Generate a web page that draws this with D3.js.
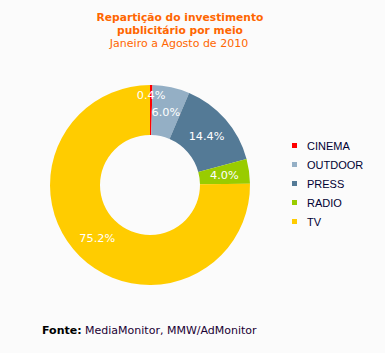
<!DOCTYPE html>
<html><head><meta charset="utf-8">
<script src="https://cdn.jsdelivr.net/npm/d3@7"></script>
<style>
html,body{margin:0;padding:0;background:#fbfbfb;}
svg{display:block;}
</style></head>
<body>
<svg id="c" width="385" height="353"></svg>
<script>
const categories = ["CINEMA","OUTDOOR","PRESS","RADIO","TV"];
const values = [0.4, 6.0, 14.4, 4.0, 75.2];
const colors = ["#ff0000","#94afc5","#547a96","#99cc00","#ffcc00"];
const titleLines = ["Repartição do investimento","publicitário por meio"];
const subtitle = "Janeiro a Agosto de 2010";

const svg = d3.select("#c");
svg.append("rect").attr("width",385).attr("height",353).attr("fill","#fbfbfb");

const t = svg.append("g").attr("font-family","DejaVu Sans, Verdana, sans-serif").attr("text-anchor","middle");
t.append("text").attr("x",180).attr("y",21).attr("font-size",10.7).attr("font-weight","bold").attr("fill","#ff6600").text(titleLines[0]);
t.append("text").attr("x",180).attr("y",34).attr("font-size",10.7).attr("font-weight","bold").attr("fill","#ff6600").text(titleLines[1]);
t.append("text").attr("x",179).attr("y",47).attr("font-size",11).attr("fill","#ff6600").text(subtitle);

const cx=150, cy=185, R=100, r=50;
const pie = d3.pie().sort(null).value(d=>d.v);
const data = categories.map((c,i)=>({c, v:values[i], col:colors[i]}));
const arcs = pie(data);
const arc = d3.arc().innerRadius(r).outerRadius(R);
const g = svg.append("g").attr("transform",`translate(${cx},${cy})`);
g.selectAll("path").data(arcs).enter().append("path")
  .attr("d",arc).attr("fill",d=>d.data.col);

const fmt = d3.format(".1f");
g.selectAll("text.lbl").data(arcs).enter().append("text")
  .attr("class","lbl")
  .attr("transform",d=>{
    const rad = d.data.v < 1 ? 90 : 75;
    const a = (d.startAngle+d.endAngle)/2;
    return `translate(${Math.sin(a)*rad},${-Math.cos(a)*rad})`;
  })
  .attr("text-anchor","middle").attr("dy","0.35em")
  .attr("font-family","DejaVu Sans, Verdana, sans-serif").attr("font-size",11.3)
  .attr("fill","#ffffff").text(d=>fmt(d.data.v)+"%");

const y = d3.scalePoint().domain(categories).range([146,222]);
const lg = svg.append("g");
lg.selectAll("rect").data(data).enter().append("rect")
  .attr("x",292).attr("y",d=>y(d.c)-3).attr("width",5).attr("height",5).attr("fill",d=>d.col);
lg.selectAll("text").data(data).enter().append("text")
  .attr("x",307).attr("y",d=>y(d.c)).attr("dy","0.35em")
  .attr("font-family","Liberation Sans, Arial, sans-serif").attr("font-size",11)
  .attr("fill","#000033").text(d=>d.c);

const f = svg.append("text").attr("x",42).attr("y",334)
  .attr("font-family","DejaVu Sans, Verdana, sans-serif").attr("font-size",11).attr("fill","#1a0033");
f.append("tspan").attr("font-weight","bold").attr("fill","#000000").text("Fonte:");
f.append("tspan").text(" MediaMonitor, MMW/AdMonitor");
</script>
</body></html>
